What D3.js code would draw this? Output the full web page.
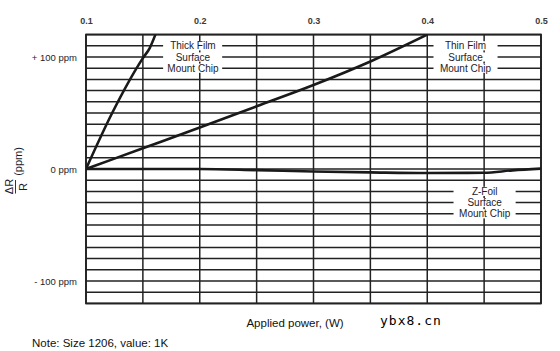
<!DOCTYPE html>
<html>
<head>
<meta charset="utf-8">
<script src="https://cdn.jsdelivr.net/npm/d3@7"></script>
<style>
  body { margin: 0; background: #fff; }
  svg { display: block; font-family: "Liberation Sans", Arial, sans-serif; }
</style>
</head>
<body>
<div id="chart"></div>
<script>
// values (x = applied power in W, y = dR/R in ppm)
var thick_film = [[0.1, 0], [0.123, 50], [0.150, 99], [0.156, 108], [0.161, 120]];
var thin_film  = [[0.1, 0], [0.15, 18.5], [0.2, 37], [0.25, 56], [0.3, 75], [0.35, 96], [0.4, 120]];
var z_foil     = [[0.1, 0], [0.15, 0], [0.2, 0], [0.25, -1], [0.3, -2.2], [0.35, -3], [0.4, -3.6], [0.45, -3.4], [0.475, -1.2], [0.5, 0.3]];

var x_ticks = [0.1, 0.2, 0.3, 0.4, 0.5];
var x_grid  = [0.1, 0.15, 0.2, 0.25, 0.3, 0.35, 0.4, 0.45, 0.5];
var y_ticks = [100, 0, -100];
var y_tick_labels = ["+ 100 ppm", "0 ppm", "- 100 ppm"];

// curve labels: lines of text, centre x (W), first row (ppm), left/right extent of the white boxes (W)
var curve_labels = [
  { lines: ["Thick Film", "Surface", "Mount Chip"], cx: 0.194, row: 110, x0: 0.1678, x1: 0.2197 },
  { lines: ["Thin Film", "Surface", "Mount Chip"],  cx: 0.4336, row: 110, x0: 0.4055, x1: 0.4618 },
  { lines: ["Z-Foil", "Surface", "Mount Chip"],     cx: 0.4505, row: -20, x0: 0.4231, x1: 0.4777 }
];

var chart_width  = 560;
var chart_height = 351;
var pad_left = 86, pad_right = 541, pad_top = 34.6, pad_bottom = 303.4;

var svg = d3.select('#chart')
            .append('svg')
            .attr('width', chart_width)
            .attr('height', chart_height);

var x_scale = d3.scaleLinear().domain([0.1, 0.5]).range([pad_left, pad_right]);
var y_scale = d3.scaleLinear().domain([-120, 120]).range([pad_bottom, pad_top]);

// grid
var grid = svg.append('g')
    .attr('stroke', '#222')
    .attr('stroke-width', 1.5);

grid.selectAll('.h')
    .data(d3.range(-120, 121, 10))
    .enter().append('line')
    .attr('x1', pad_left).attr('x2', pad_right)
    .attr('y1', function(d) { return y_scale(d); })
    .attr('y2', function(d) { return y_scale(d); });

grid.selectAll('.v')
    .data(x_grid)
    .enter().append('line')
    .attr('y1', pad_top).attr('y2', pad_bottom)
    .attr('x1', function(d) { return x_scale(d); })
    .attr('x2', function(d) { return x_scale(d); });

// top axis
var x_axis = d3.axisTop(x_scale)
    .tickValues(x_ticks)
    .tickSize(0)
    .tickPadding(10.5)
    .tickFormat(d3.format('.1f'));

var gx = svg.append('g')
    .attr('transform', 'translate(0,' + pad_top + ')')
    .call(x_axis);
gx.select('.domain').remove();
gx.selectAll('text')
    .attr('font-family', '"Liberation Sans", Arial, sans-serif')
    .attr('font-size', 9)
    .attr('font-weight', 'bold')
    .attr('fill', '#3a3a3a');

// left axis
var y_axis = d3.axisLeft(y_scale)
    .tickValues(y_ticks)
    .tickSize(0)
    .tickPadding(9)
    .tickFormat(function(d, i) { return y_tick_labels[i]; });

var gy = svg.append('g')
    .attr('transform', 'translate(' + pad_left + ',0)')
    .call(y_axis);
gy.select('.domain').remove();
gy.selectAll('text')
    .attr('font-family', '"Liberation Sans", Arial, sans-serif')
    .attr('font-size', 9.5)
    .attr('fill', '#1c1c2c');

// curve labels with white backing
curve_labels.forEach(function(lab) {
    var g = svg.append('g');
    lab.lines.forEach(function(t, i) {
        var yy = y_scale(lab.row - i * 10);
        g.append('rect')
            .attr('x', x_scale(lab.x0))
            .attr('y', yy - 4.6)
            .attr('width', x_scale(lab.x1) - x_scale(lab.x0))
            .attr('height', 9.2)
            .attr('fill', '#fff');
        g.append('text')
            .attr('x', x_scale(lab.cx))
            .attr('y', yy)
            .attr('dy', '0.35em')
            .attr('text-anchor', 'middle')
            .attr('font-size', 10)
            .attr('fill', '#1c1c2c')
            .text(t);
    });
});

// frame
svg.append('rect')
    .attr('x', pad_left).attr('y', pad_top)
    .attr('width', pad_right - pad_left).attr('height', pad_bottom - pad_top)
    .attr('fill', 'none')
    .attr('stroke', '#222')
    .attr('stroke-width', 1.8);

// curves
svg.append('clipPath').attr('id', 'plot-clip')
    .append('rect')
    .attr('x', pad_left).attr('y', pad_top)
    .attr('width', pad_right - pad_left).attr('height', pad_bottom - pad_top);

var line = d3.line()
    .x(function(d) { return x_scale(d[0]); })
    .y(function(d) { return y_scale(d[1]); })
    .curve(d3.curveMonotoneX);

[thick_film, thin_film, z_foil].forEach(function(series) {
    svg.append('path')
        .datum(series)
        .attr('clip-path', 'url(#plot-clip)')
        .attr('fill', 'none')
        .attr('stroke', '#1a1a1a')
        .attr('stroke-width', 2.6)
        .attr('stroke-linejoin', 'round')
        .attr('d', line);
});

// y axis title: dR/R (ppm), rotated
var yt = svg.append('g')
    .attr('transform', 'rotate(-90)')
    .attr('fill', '#1c1c2c')
    .attr('font-size', 11);
yt.append('text').attr('x', -186.5).attr('y', 13).attr('text-anchor', 'middle').text('ΔR');
yt.append('line')
    .attr('x1', -180).attr('x2', -193.5)
    .attr('y1', 15.5).attr('y2', 15.5)
    .attr('stroke', '#1c1c2c').attr('stroke-width', 0.9);
yt.append('text').attr('x', -187).attr('y', 26.5).attr('text-anchor', 'middle').text('R');
yt.append('text').attr('x', -161.5).attr('y', 21.5).attr('text-anchor', 'middle').text('(ppm)');

// x axis title
svg.append('text')
    .attr('x', 295)
    .attr('y', 326.5)
    .attr('text-anchor', 'middle')
    .attr('font-size', 11.5)
    .attr('fill', '#111')
    .text('Applied power, (W)');

svg.append('text')
    .attr('x', 380)
    .attr('y', 325)
    .attr('font-family', '"DejaVu Sans Mono", monospace')
    .attr('font-size', 13)
    .attr('letter-spacing', 1)
    .attr('fill', '#000')
    .text('ybx8.cn');

svg.append('text')
    .attr('x', 32)
    .attr('y', 347)
    .attr('font-size', 11.5)
    .attr('fill', '#111')
    .text('Note: Size 1206, value: 1K');
</script>
</body>
</html>
